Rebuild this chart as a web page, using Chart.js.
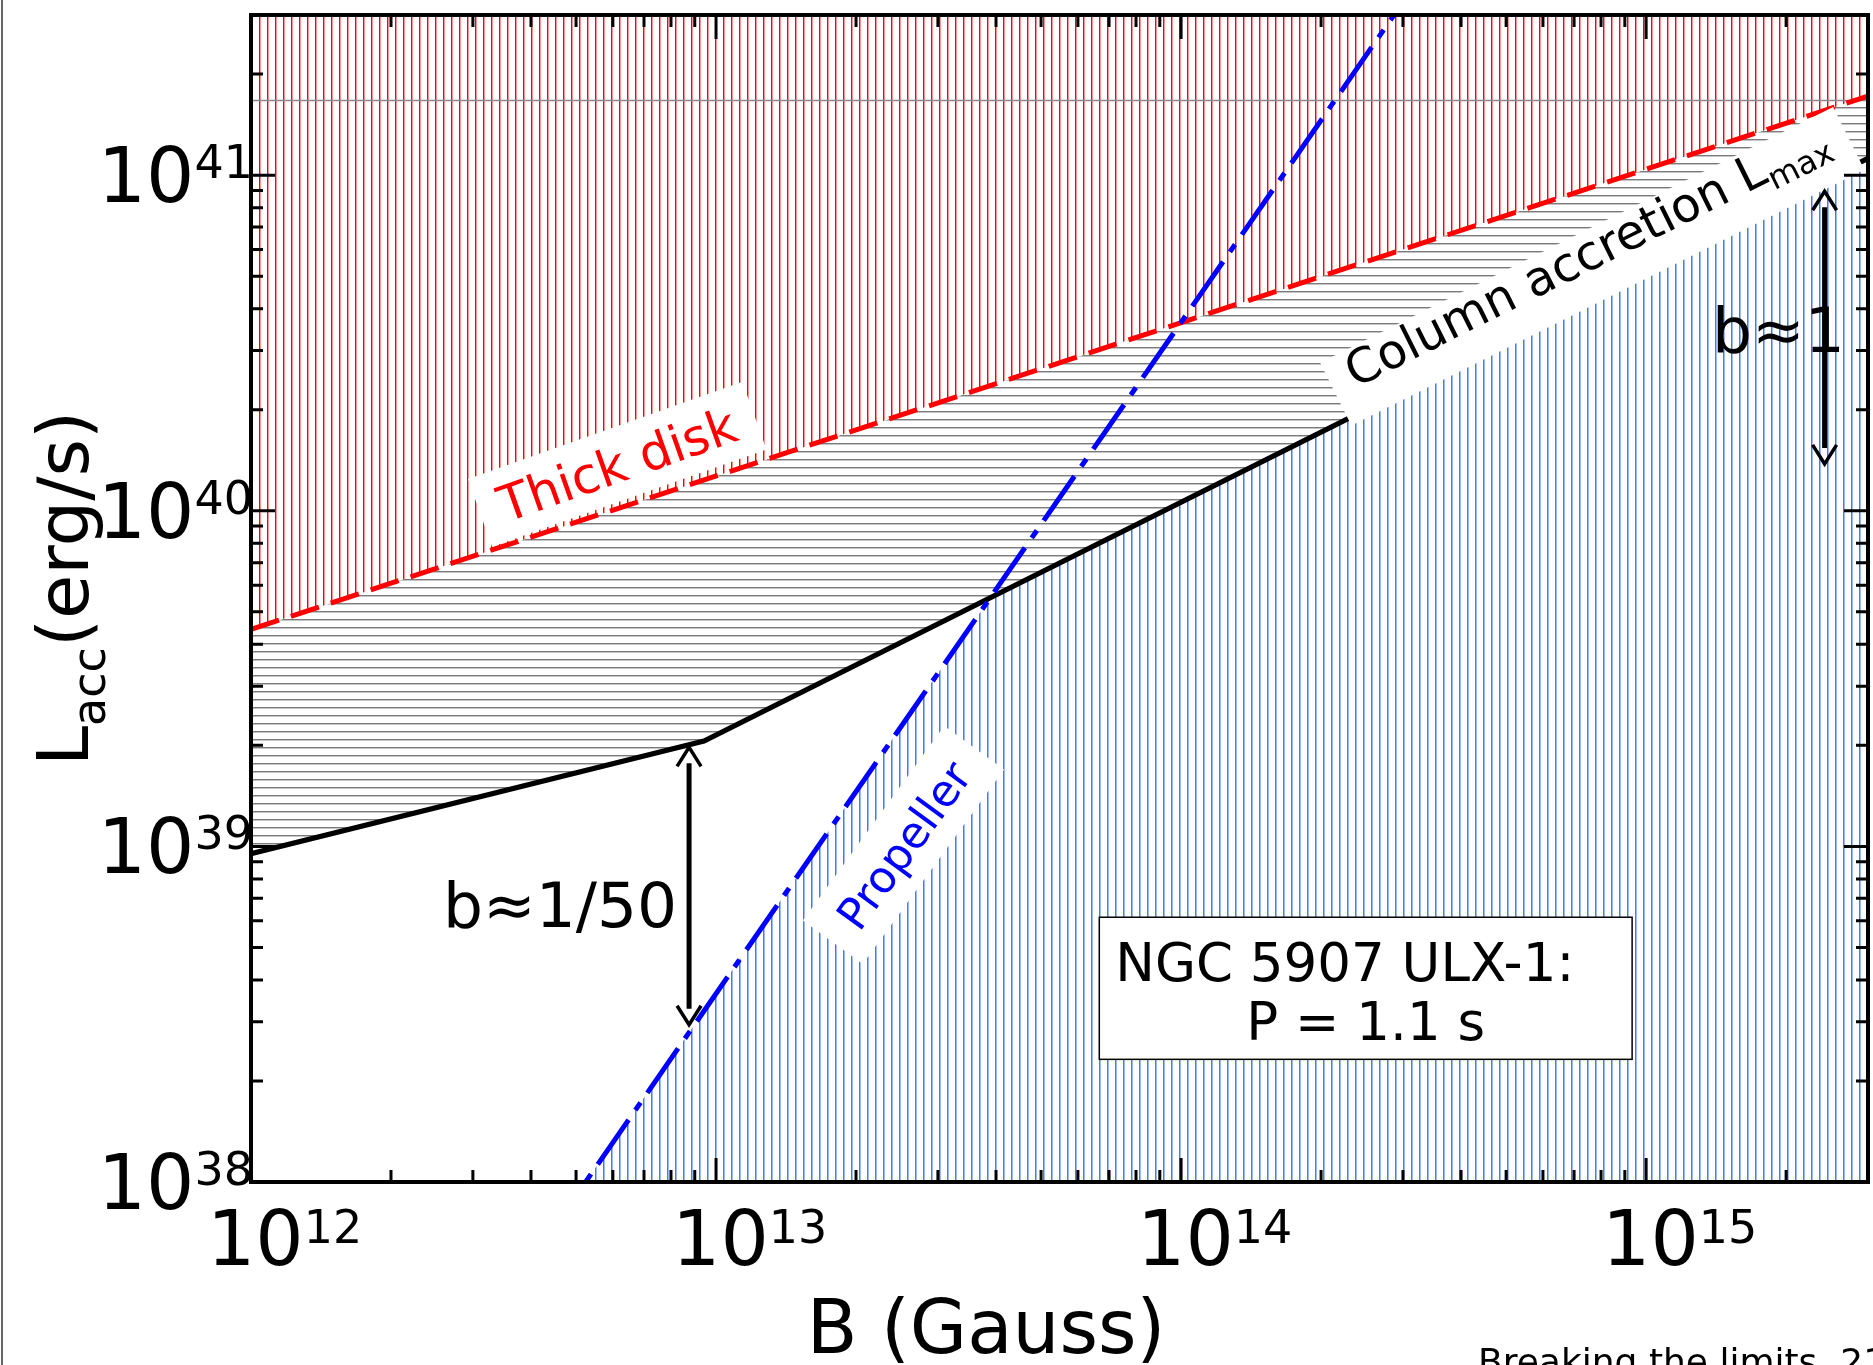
<!DOCTYPE html>
<html>
<head>
<meta charset="utf-8">
<script src="https://cdn.jsdelivr.net/npm/chart.js@4.4.1/dist/chart.umd.min.js"></script>
<style>
  html, body { margin: 0; padding: 0; background: #fff; }
  #wrap { width: 1873px; height: 1365px; position: relative; }
</style>
</head>
<body>
<div id="wrap"><canvas id="mainChart"></canvas></div>
<script>
// B in Gauss, L in erg/s
var bRange = [1e12, 3e15];
var lRange = [1e38, 3e41];

// thick disk limit (red dashed)
var diskB = [1e12, 3e15];
var diskL = [4.43e39, 1.72e41];

// column accretion limit (black), b~1/50 below the kink
var columnB = [1e12, 9.42e12, 3e15];
var columnL = [9.51e38, 2.06e39, 1.122e41];

// propeller line for P = 1.1 s (blue dash-dot)
var propB = [1e12, 3e15];
var propL = [3.64e36, 3.28e43];

// upper edge of the grey hatching
var hatchTopL = 1.67e41;

var xTickExps = [12, 13, 14, 15];
var yTickExps = [38, 39, 40, 41];

var FONT = '"DejaVu Sans", sans-serif';

function pts(xs, ys) {
  var out = [];
  for (var i = 0; i < xs.length; i++) out.push({ x: xs[i], y: ys[i] });
  return out;
}

var ctx = document.getElementById('mainChart').getContext('2d');

//Hatch patterns, 8px period
function makeHatch(core, edge, vertical) {
  var c = document.createElement('canvas');
  c.width = 8; c.height = 8;
  var g = c.getContext('2d');
  g.fillStyle = '#fff';
  g.fillRect(0, 0, 8, 8);
  g.fillStyle = core;
  if (vertical) g.fillRect(3, 0, 1, 8); else g.fillRect(0, 3, 8, 1);
  g.fillStyle = edge;
  if (vertical) g.fillRect(4, 0, 1, 8); else g.fillRect(0, 4, 8, 1);
  return ctx.createPattern(c, 'repeat');
}
var redHatch = makeHatch('#ff0000', '#ff9090', true);
var blueHatch = makeHatch('#4d74ff', '#a3b7ff', true);
var greyHatch = makeHatch('#7c7c7c', '#c4c4c4', false);

//Text helpers (runs of text with sub/superscripts)
function runsWidth(c, runs) {
  var w = 0;
  runs.forEach(function (r) { c.font = r.size + 'px ' + FONT; w += c.measureText(r.t).width; });
  return w;
}
function drawRuns(c, runs, x, y) {
  runs.forEach(function (r) {
    c.font = r.size + 'px ' + FONT;
    c.fillText(r.t, x, y + (r.dy || 0));
    x += c.measureText(r.t).width;
  });
}

// rotated labels on white boxes, anchored in data coordinates
var boxLabels = [
  { runs: [{ t: 'Thick disk', size: 50 }], color: '#ff0000', B: 6.13e12, L: 1.376e40, angle: -19.5, padX: 21, h: 72, shift: 0 },
  { runs: [{ t: 'Column accretion L', size: 48 }, { t: 'max', size: 32, dy: 10 }], color: '#000', B: 7.66e14, L: 5.35e40, angle: -26.5, padX: 20, h: 70, shift: -14 },
  { runs: [{ t: 'Propeller', size: 44 }], color: '#0000ff', B: 2.53e13, L: 1.009e39, angle: -54, padX: 23, h: 74, shift: 0 }
];

// double arrows: B, L from, L to
var arrows = [
  { B: 8.75e12, L1: 2.0e39, L2: 2.9e38 },
  { B: 2.42e15, L1: 9.08e40, L2: 1.36e40 }
];
var arrowTexts = [
  { t: 'b\u22481/50', B: 8.25e12, L: 5.75e38, align: 'right' },
  { t: 'b\u22481', B: 1.385e15, L: 2.97e40, align: 'left' }
];

// info box corners (B, L)
var infoBox = { B1: 6.67e13, B2: 9.33e14, L1: 6.15e38, L2: 2.32e38 };

var labelsPlugin = {
  id: 'labels',
  afterDatasetsDraw: function (chart) {
    var c = chart.ctx, xs = chart.scales.x, ys = chart.scales.y;
    c.save();
    boxLabels.forEach(function (lb) {
      var w = runsWidth(c, lb.runs);
      var bw = w + 2 * lb.padX;
      c.save();
      c.translate(xs.getPixelForValue(lb.B), ys.getPixelForValue(lb.L));
      c.rotate(lb.angle * Math.PI / 180);
      c.fillStyle = '#fff';
      c.fillRect(-bw / 2, -lb.h / 2, bw, lb.h);
      c.fillStyle = lb.color;
      c.textBaseline = 'alphabetic';
      drawRuns(c, lb.runs, -w / 2, lb.runs[0].size * 0.36 + lb.shift);
      c.restore();
    });

    // arrows
    c.strokeStyle = '#000';
    arrows.forEach(function (ar) {
      var x = xs.getPixelForValue(ar.B);
      var y1 = ys.getPixelForValue(ar.L1), y2 = ys.getPixelForValue(ar.L2);
      var top = Math.min(y1, y2), bot = Math.max(y1, y2);
      c.lineWidth = 5;
      c.beginPath();
      c.moveTo(x, top + 18); c.lineTo(x, bot - 18);
      c.stroke();
      c.lineWidth = 3.5;
      c.beginPath();
      c.moveTo(x - 12, top + 21); c.lineTo(x, top + 2); c.lineTo(x + 12, top + 21);
      c.moveTo(x - 12, bot - 21); c.lineTo(x, bot - 2); c.lineTo(x + 12, bot - 21);
      c.stroke();
    });
    c.fillStyle = '#000';
    c.font = '63px ' + FONT;
    arrowTexts.forEach(function (at) {
      c.textAlign = at.align;
      c.fillText(at.t, xs.getPixelForValue(at.B), ys.getPixelForValue(at.L));
    });

    // NGC 5907 box
    var bx1 = xs.getPixelForValue(infoBox.B1), bx2 = xs.getPixelForValue(infoBox.B2);
    var by1 = ys.getPixelForValue(infoBox.L1), by2 = ys.getPixelForValue(infoBox.L2);
    c.fillStyle = '#fff';
    c.fillRect(bx1, by1, bx2 - bx1, by2 - by1);
    c.lineWidth = 1.5;
    c.strokeRect(bx1, by1, bx2 - bx1, by2 - by1);
    c.fillStyle = '#000';
    c.font = '53px ' + FONT;
    c.textAlign = 'left';
    c.fillText('NGC 5907 ULX-1:', bx1 + 16, by1 + 64);
    c.textAlign = 'center';
    c.fillText('P = 1.1 s', (bx1 + bx2) / 2, by1 + 123);
    c.restore();
  }
};

//Frame, ticks and tick labels
var framePlugin = {
  id: 'frame',
  afterDraw: function (chart) {
    var c = chart.ctx, a = chart.chartArea, xs = chart.scales.x, ys = chart.scales.y;
    c.save();
    c.strokeStyle = '#000';
    c.lineWidth = 3;
    c.beginPath();
    for (var e = 11; e <= 15; e++) {
      for (var k = 1; k <= 9; k++) {
        var v = k * Math.pow(10, e);
        if (v < bRange[0] || v > bRange[1]) continue;
        var px = xs.getPixelForValue(v), len = k === 1 ? 24 : 12;
        c.moveTo(px, a.bottom); c.lineTo(px, a.bottom - len);
        c.moveTo(px, a.top); c.lineTo(px, a.top + len);
      }
    }
    for (var e2 = 37; e2 <= 41; e2++) {
      for (var k2 = 1; k2 <= 9; k2++) {
        var v2 = k2 * Math.pow(10, e2);
        if (v2 < lRange[0] || v2 > lRange[1] * 1.0001) continue;
        var py = ys.getPixelForValue(v2), len2 = k2 === 1 ? 24 : 12;
        c.moveTo(a.left, py); c.lineTo(a.left + len2, py);
        c.moveTo(a.right, py); c.lineTo(a.right - len2, py);
      }
    }
    c.stroke();
    c.lineWidth = 4;
    c.strokeRect(a.left, a.top, a.right - a.left, a.bottom - a.top);

    c.fillStyle = '#000';
    c.textAlign = 'left';
    c.textBaseline = 'alphabetic';
    xTickExps.forEach(function (ex) {
      var px = xs.getPixelForValue(Math.pow(10, ex));
      drawRuns(c, [{ t: '10', size: 76 }, { t: String(ex), size: 46, dy: -22 }], px - 44, 1265);
    });
    yTickExps.forEach(function (ex) {
      var py = ys.getPixelForValue(Math.pow(10, ex));
      var runs = [{ t: '10', size: 76 }, { t: String(ex), size: 46, dy: -24 }];
      drawRuns(c, runs, 253 - runsWidth(c, runs), py + 27);
    });

    // axis titles
    c.font = '74px ' + FONT;
    c.textAlign = 'center';
    c.fillText('B (Gauss)', 986, 1353);
    c.textAlign = 'left';
    c.save();
    c.translate(88, 766);
    c.rotate(-Math.PI / 2);
    drawRuns(c, [{ t: 'L', size: 72 }, { t: 'acc', size: 46, dy: 17 }, { t: '(erg/s)', size: 72 }], 0, 0);
    c.restore();

    c.font = '36px ' + FONT;
    c.fillText('Breaking the limits, 21', 1478, 1374);

    c.fillStyle = '#666';
    c.fillRect(1, 0, 2, 1365);
    c.restore();
  }
};

var chart = new Chart(ctx, {
  type: 'line',
  data: {
    datasets: [
      { data: pts(propB, propL), borderColor: '#0000ff', borderWidth: 5, borderDash: [54, 12, 9, 12], pointRadius: 0, fill: false },
      { data: pts(diskB, diskL), borderColor: '#ff0000', borderWidth: 5, borderDash: [29.5, 12.5], pointRadius: 0, fill: false },
      { data: pts(columnB, columnL), borderColor: '#000', borderWidth: 5, pointRadius: 0, fill: false },
      { data: pts(bRange, [hatchTopL, hatchTopL]), borderColor: '#8a8a8a', borderWidth: 1.5, pointRadius: 0, fill: false },
      // hatched regions, drawn bottom-up: blue, grey, red
      { data: pts(diskB, diskL), borderWidth: 0, pointRadius: 0, fill: 'end', backgroundColor: redHatch },
      { data: pts(columnB, columnL), borderWidth: 0, pointRadius: 0, fill: 4, backgroundColor: greyHatch },
      { data: pts(propB, propL), borderWidth: 0, pointRadius: 0, fill: 'start', backgroundColor: blueHatch }
    ]
  },
  options: {
    responsive: true,
    maintainAspectRatio: false,
    animation: false,
    events: [],
    layout: { padding: { left: 251, right: 5, top: 15, bottom: 183 } },
    elements: { line: { tension: 0 } },
    scales: {
      x: { type: 'logarithmic', min: bRange[0], max: bRange[1], display: false },
      y: { type: 'logarithmic', min: lRange[0], max: lRange[1], display: false }
    },
    plugins: {
      legend: { display: false },
      tooltip: { enabled: false }
    }
  },
  plugins: [labelsPlugin, framePlugin]
});
</script>
</body>
</html>
